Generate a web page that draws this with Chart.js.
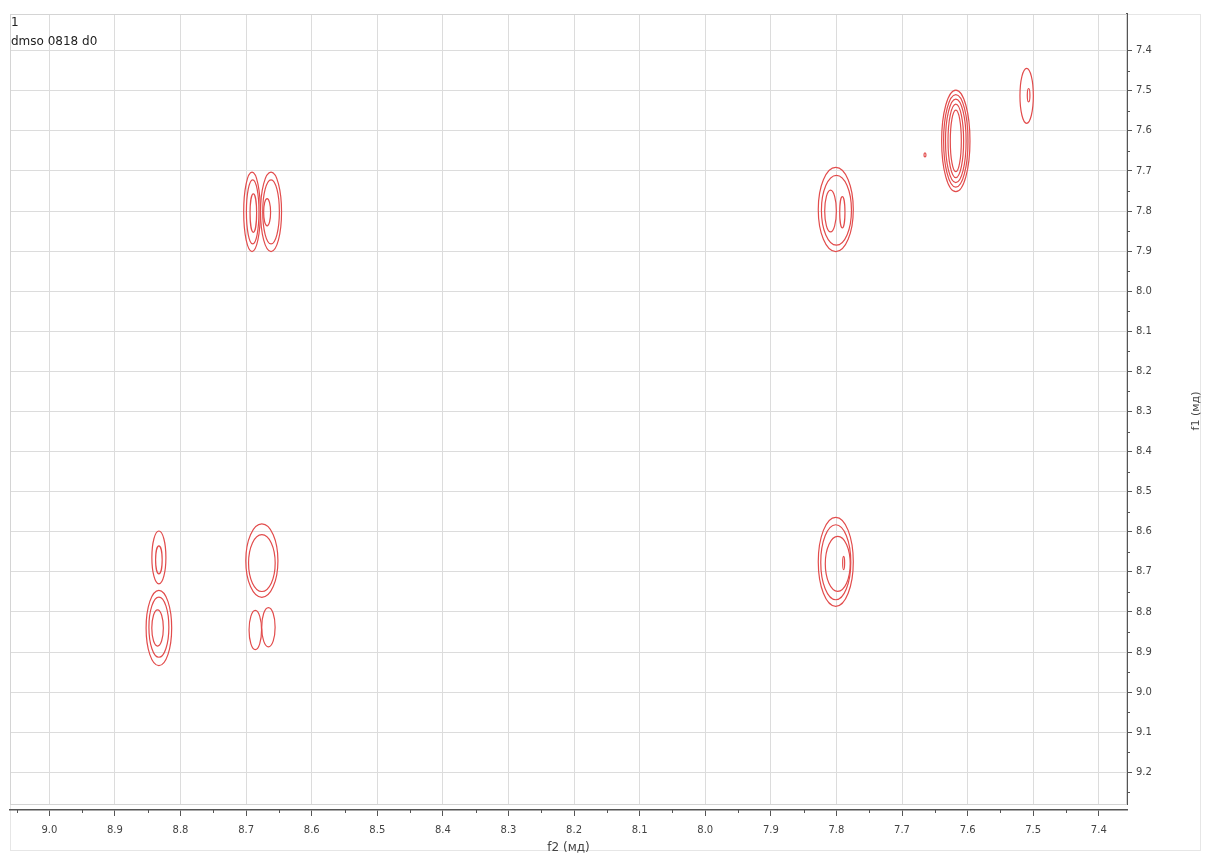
<!DOCTYPE html>
<html><head><meta charset="utf-8">
<style>html,body{margin:0;padding:0;background:#fff;}#wrap{width:1206px;height:855px;}</style>
<script src="https://cdn.jsdelivr.net/npm/chart.js@4.4.1/dist/chart.umd.min.js"></script>
</head><body><div id="wrap"><canvas id="c" width="1206" height="855"></canvas></div>
<script>
// ---- data (ppm) ----
const f2Range = [7.357, 9.060];
const f1Range = [7.3085, 9.279];
const tickStep = 0.1;
const headerLines = ['1', 'dmso 0818 d0'];
const f2Title = 'f2 (мд)';
const f1Title = 'f1 (мд)';
// contour centres (f2, f1) and half-extents
const contourF2 = [8.833, 8.833, 8.833, 8.833, 8.835, 8.676, 8.676, 8.686, 8.666,
  8.691, 8.662, 8.690, 8.662, 8.689, 8.668,
  7.801, 7.800, 7.809, 7.791,
  7.801, 7.801, 7.798, 7.789,
  7.618, 7.618, 7.618, 7.618, 7.618,
  7.510, 7.507, 7.665];
const contourF1 = [8.664, 8.670, 8.840, 8.838, 8.840, 8.672, 8.678, 8.845, 8.838,
  7.802, 7.802, 7.802, 7.802, 7.805, 7.803,
  7.796, 7.798, 7.800, 7.803,
  8.675, 8.676, 8.680, 8.678,
  7.625, 7.625, 7.625, 7.625, 7.625,
  7.5125, 7.511, 7.660];
const contourHalfW = [0.0107, 0.005, 0.0195, 0.0152, 0.0088, 0.0245, 0.0203, 0.0095, 0.0102,
  0.0127, 0.016, 0.0096, 0.0127, 0.005, 0.0053,
  0.0267, 0.0229, 0.0089, 0.004,
  0.0267, 0.0229, 0.019, 0.0015,
  0.0216, 0.0186, 0.0157, 0.0119, 0.0084,
  0.0102, 0.002, 0.0015];
const contourHalfH = [0.066, 0.035, 0.094, 0.075, 0.045, 0.0915, 0.071, 0.049, 0.049,
  0.099, 0.099, 0.080, 0.080, 0.048, 0.034,
  0.105, 0.087, 0.052, 0.039,
  0.111, 0.0935, 0.0686, 0.0167,
  0.1267, 0.1155, 0.104, 0.0915, 0.0768,
  0.0686, 0.0167, 0.005];

const gridColor = '#dcdcdc';
const textColor = '#444';
const axisColor = '#555';
const contourColor = 'rgb(226,76,76)';
const FONT = 'DejaVu Sans';

const contourPlugin = {
  id: 'contours',
  beforeDraw(chart) {
    const ctx = chart.ctx;
    ctx.save();
    ctx.strokeStyle = '#e6e6e6';
    ctx.lineWidth = 1;
    ctx.strokeRect(10.5, 14.5, 1190, 836);
    ctx.restore();
  },
  afterDatasetsDraw(chart) {
    const ctx = chart.ctx, xs = chart.scales.x, ys = chart.scales.y, a = chart.chartArea;
    ctx.save();
    ctx.beginPath(); ctx.rect(a.left, a.top, a.right - a.left, a.bottom - a.top); ctx.clip();
    ctx.strokeStyle = contourColor;
    ctx.lineWidth = 1.2;
    for (let i = 0; i < contourF2.length; i++) {
      const px = xs.getPixelForValue(contourF2[i]);
      const py = ys.getPixelForValue(contourF1[i]);
      const rx = Math.abs(xs.getPixelForValue(contourF2[i] + contourHalfW[i]) - px);
      const ry = Math.abs(ys.getPixelForValue(contourF1[i] + contourHalfH[i]) - py);
      ctx.beginPath();
      ctx.ellipse(px, py, Math.max(rx, 0.6), Math.max(ry, 0.6), 0, 0, Math.PI * 2);
      ctx.stroke();
    }
    ctx.restore();
    // plot border
    ctx.save();
    ctx.strokeStyle = '#d4d4d4';
    ctx.lineWidth = 1;
    ctx.strokeRect(a.left + 0.5, a.top + 0.5, a.right - a.left - 1, a.bottom - a.top);
    ctx.restore();
  },
  afterDraw(chart) {
    const ctx = chart.ctx;
    const xa = chart.scales.xAxis, ys = chart.scales.y;
    ctx.save();
    ctx.strokeStyle = axisColor;
    ctx.lineWidth = 1;
    // minor ticks
    const xt = xa.ticks.map(t => t.value);
    for (let i = -1; i < xt.length; i++) {
      const v = (i < 0 ? xt[0] + tickStep / 2 : xt[i] - tickStep / 2);
      if (v < f2Range[0] || v > f2Range[1]) continue;
      const p = Math.round(xa.getPixelForValue(v)) + 0.5;
      ctx.beginPath(); ctx.moveTo(p, xa.top); ctx.lineTo(p, xa.top + 3); ctx.stroke();
    }
    const yt = ys.ticks.map(t => t.value);
    for (let i = -1; i < yt.length; i++) {
      const v = (i < 0 ? yt[0] - tickStep / 2 : yt[i] + tickStep / 2);
      if (v < f1Range[0] || v > f1Range[1]) continue;
      const p = Math.round(ys.getPixelForValue(v)) + 0.5;
      ctx.beginPath(); ctx.moveTo(ys.left, p); ctx.lineTo(ys.left + 3, p); ctx.stroke();
    }
    // header text
    ctx.fillStyle = '#222';
    ctx.font = '12px "' + FONT + '"';
    ctx.textAlign = 'left';
    ctx.textBaseline = 'middle';
    ctx.fillText(headerLines[0], 11, 23);
    ctx.fillText(headerLines[1], 11, 42);
    // f1 title
    ctx.fillStyle = textColor;
    ctx.font = '11px "' + FONT + '"';
    ctx.translate(1196, 411);
    ctx.rotate(-Math.PI / 2);
    ctx.textAlign = 'center';
    ctx.fillText(f1Title, 0, 0);
    ctx.restore();
  }
};

const centres = contourF2.map((x, i) => ({ x, y: contourF1[i] }));
const fmt = v => Number(v).toFixed(1);

new Chart(document.getElementById('c'), {
  type: 'scatter',
  data: { datasets: [{ data: centres, pointRadius: 0, showLine: false }] },
  options: {
    responsive: false, animation: false, devicePixelRatio: 1,
    layout: { padding: { left: 10, top: 14, right: 0, bottom: 0 } },
    plugins: { legend: { display: false }, tooltip: { enabled: false } },
    scales: {
      x: {
        type: 'linear', position: 'bottom', reverse: true, weight: 0,
        min: f2Range[0], max: f2Range[1],
        ticks: { display: false, stepSize: tickStep, includeBounds: false },
        grid: { color: gridColor, drawTicks: false },
        border: { display: false },
        afterFit(s) { s.height = 6; }
      },
      xAxis: {
        type: 'linear', position: 'bottom', reverse: true, weight: 1,
        min: f2Range[0], max: f2Range[1],
        ticks: { stepSize: tickStep, includeBounds: false, autoSkip: false, maxRotation: 0,
          color: textColor, font: { family: FONT, size: 10 }, padding: 8, callback: fmt },
        grid: { drawOnChartArea: false, tickLength: 6, tickColor: axisColor },
        border: { color: axisColor, width: 1.5 },
        title: { display: true, text: f2Title, color: textColor, font: { family: FONT, size: 12 }, padding: { top: 0, bottom: 0 } },
        afterFit(s) { s.height = 45; }
      },
      y: {
        type: 'linear', position: 'right', reverse: true,
        min: f1Range[0], max: f1Range[1],
        ticks: { stepSize: tickStep, includeBounds: false, autoSkip: false,
          color: textColor, font: { family: FONT, size: 10 }, padding: 4, callback: fmt },
        grid: { color: gridColor, tickLength: 5, tickColor: axisColor },
        border: { color: axisColor, width: 2 },
        afterFit(s) { s.width = 79; }
      }
    }
  },
  plugins: [contourPlugin]
});
</script></body></html>
